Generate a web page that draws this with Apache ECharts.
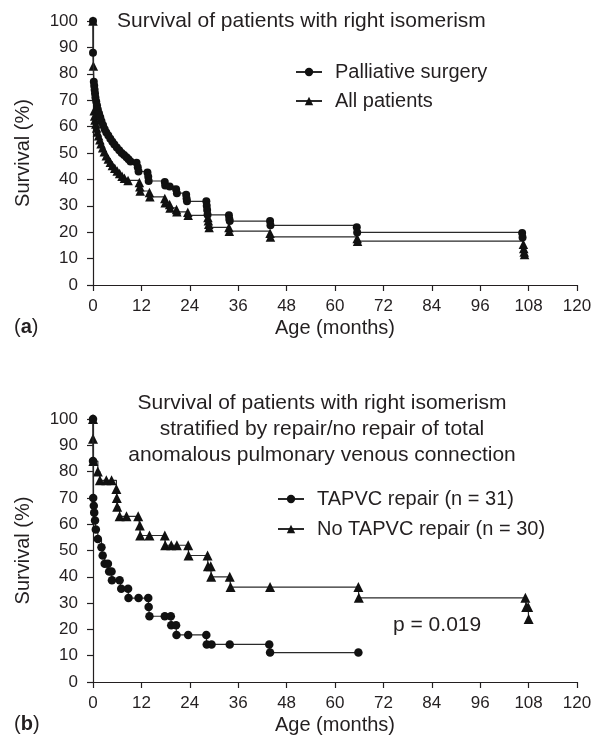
<!DOCTYPE html>
<html>
<head>
<meta charset="utf-8">
<script src="https://cdn.jsdelivr.net/npm/echarts@6/dist/echarts.min.js"></script>
<style>
html,body{margin:0;padding:0;background:#fff;}
#c{width:600px;height:742px;}
</style>
</head>
<body>
<div id="c"></div>
<script>
// ---- Data (months, survival %) ----
var xTicks = [0, 12, 24, 36, 48, 60, 72, 84, 96, 108, 120];
var yTicks = [0, 10, 20, 30, 40, 50, 60, 70, 80, 90, 100];

var titleA = 'Survival of patients with right isomerism';
var titleB = 'Survival of patients with right isomerism\nstratified by repair/no repair of total\nanomalous pulmonary venous connection';
var xName = 'Age (months)';
var yName = 'Survival (%)';
var pValue = 'p = 0.019';

var palliativeName = 'Palliative surgery';
var palliative = [
  [0,100],[0,88],[0.2,77],[0.3,75.5],[0.4,74],[0.5,72.5],[0.6,71],[0.8,69.5],[1.0,68],[1.2,66.5],
  [1.5,65],[1.8,63.5],[2.1,62],[2.5,60.5],[2.9,59],[3.3,57.8],[3.8,56.6],[4.3,55.4],[4.8,54.3],
  [5.3,53.2],[5.9,52.1],[6.5,51],[7.1,50],[7.7,49.2],[8.3,48.4],[8.8,47.6],[9.3,46.8],[10.8,46.3],
  [11.1,44.6],[11.3,43],[13.5,42.6],[13.7,41],[13.8,39.4],[17.8,39],[17.9,37.7],[19,37.3],
  [20.6,36.3],[20.8,34.8],[23.1,34.2],[23.2,32.8],[23.3,31.7],[28.1,31.7],[28.2,30],[28.3,28.4],
  [28.4,26.6],[33.7,26.4],[33.8,25],[33.9,24.2],[43.9,24.2],[44,22.6],[65.4,21.9],[65.5,19.9],
  [106.4,19.7],[106.5,18]
];

var allName = 'All patients';
var allPatients = [
  [0,100],[0.1,83],[0.3,66],[0.4,64],[0.5,62.5],[0.7,61],[0.9,59.5],[1.1,58],[1.4,56.5],[1.7,55],
  [2.0,53.5],[2.4,52],[2.8,50.5],[3.3,49],[3.8,47.7],[4.3,46.5],[4.8,45.3],[5.4,44.2],[6.0,43.2],
  [6.6,42.2],[7.2,41.2],[7.8,40.4],[8.7,39.6],[11.5,38.8],[11.6,37.2],[11.7,35.6],[14.0,35],
  [14.1,33.4],[17.8,32.8],[17.9,31.2],[19.0,30.5],[19.1,29.2],[20.7,28.6],[20.8,27.7],[23.5,27.6],
  [23.6,26.4],[28.5,25.6],[28.6,24.3],[28.7,23],[28.8,21.8],[33.7,21.8],[33.8,20.4],[43.9,19.6],
  [44,18.2],[65.5,17.6],[65.6,16.6],[106.7,15.4],[106.8,13.8],[106.9,12.5],[107,11.6]
];

var repairName = 'TAPVC repair (n = 31)';
var repair = [
  [0,100],[0,84],[0.05,70],[0.2,67],[0.3,64.4],[0.5,61.4],[0.7,58],[1.2,54.4],[2.1,51.2],[2.4,48.1],
  [2.9,45],[3.7,45],[4.0,42],[4.6,42],[4.7,38.7],[6.6,38.7],[7.0,35.5],[8.7,35.5],[8.8,31.9],
  [11.3,31.9],[13.7,31.9],[13.8,28.5],[14.0,25],[17.8,25],[19.3,25],[19.4,21.6],[20.6,21.6],
  [20.7,17.9],[23.6,17.9],[28.1,17.9],[28.2,14.3],[29.4,14.3],[33.9,14.3],[43.7,14.3],[43.9,11.2],
  [65.8,11.2]
];

var noRepairName = 'No TAPVC repair (n = 30)';
var noRepair = [
  [0,100],[0,92.5],[0.1,84],[1.2,80],[1.7,76.7],[3.3,76.7],[4.6,76.7],[5.8,73.4],[5.9,70],[6.0,66.6],
  [6.6,63],[8.3,63],[11.2,63],[11.6,59.5],[11.7,55.7],[14.0,55.7],[17.8,55.7],[17.9,52],[19.4,52],
  [20.8,52],[23.6,52],[23.7,48.1],[28.4,48.1],[28.5,44],[29.2,44],[29.3,40],[33.9,40],[34.1,36.1],
  [43.9,36.1],[65.8,36.1],[65.9,32],[107.2,32],[107.4,28.5],[107.9,28.5],[108,24]
];

// ---- Chart ----
var FONT = '"Liberation Sans", Arial, Helvetica, sans-serif';
var INK = '#231f20';
var chart = echarts.init(document.getElementById('c'), null, {renderer: 'canvas'});

function mkX(gi) {
  return {
    type: 'value', gridIndex: gi, min: 0, max: 120, interval: 12,
    name: xName, nameLocation: 'middle', nameGap: 33,
    nameTextStyle: {fontFamily: FONT, fontSize: 20, color: INK},
    axisLine: {lineStyle: {color: INK, width: 1.2}},
    axisTick: {show: true, inside: false, length: 6, lineStyle: {color: INK, width: 1.2}},
    axisLabel: {fontFamily: FONT, fontSize: 17, color: INK, margin: 13,
      formatter: function (v) { return xTicks.indexOf(v) >= 0 ? String(v) : ''; }},
    splitLine: {show: false}
  };
}
function mkY(gi) {
  return {
    type: 'value', gridIndex: gi, min: 0, max: 100, interval: 10,
    name: yName, nameLocation: 'middle', nameGap: 60,
    nameTextStyle: {fontFamily: FONT, fontSize: 20, color: INK},
    axisLine: {show: true, lineStyle: {color: INK, width: 1.2}},
    axisTick: {show: true, inside: false, length: 6, lineStyle: {color: INK, width: 1.2}},
    axisLabel: {fontFamily: FONT, fontSize: 17, color: INK, margin: 15,
      formatter: function (v) { return yTicks.indexOf(v) >= 0 ? String(v) : ''; }},
    splitLine: {show: false}
  };
}
function mkS(name, data, gi, symbol, size) {
  return {
    type: 'line', name: name, data: data, xAxisIndex: gi, yAxisIndex: gi,
    step: 'end', symbol: symbol, symbolSize: size, showSymbol: true,
    lineStyle: {color: '#2a2a2a', width: 1.2},
    itemStyle: {color: '#111', borderWidth: 0},
    emphasis: {disabled: true}, animation: false, clip: false, z: symbol === 'circle' ? 3 : 2
  };
}
function mkL(name, left, top) {
  return {
    data: [name], left: left, top: top, orient: 'horizontal', padding: 0,
    itemWidth: 26, itemHeight: 10.5, selectedMode: false,
    textStyle: {fontFamily: FONT, fontSize: 20, color: INK, padding: [0, 0, 0, 8]}
  };
}
function plain(size) {
  return {fontFamily: FONT, fontSize: size, fontWeight: 'normal', color: INK};
}

var option = {
  backgroundColor: '#fff',
  animation: false,
  title: [
    {text: titleA, left: 117, top: 11, padding: 0, textStyle: plain(21)},
    {text: titleB, left: 322, textAlign: 'center', top: 390, padding: 0,
      textStyle: Object.assign(plain(21), {lineHeight: 26, align: 'center'})},
    {text: pValue, left: 393, top: 615, padding: 0, textStyle: plain(21)},
    {text: '({b|a})', left: 14, top: 317, padding: 0, textStyle: Object.assign(plain(20),
      {rich: {b: {fontFamily: FONT, fontSize: 20, fontWeight: 'bold', color: INK}}})},
    {text: '({b|b})', left: 14, top: 714, padding: 0, textStyle: Object.assign(plain(20),
      {rich: {b: {fontFamily: FONT, fontSize: 20, fontWeight: 'bold', color: INK}}})}
  ],
  legend: [
    mkL(palliativeName, 295, 62),
    mkL(allName, 295, 91),
    mkL(repairName, 277, 489),
    mkL(noRepairName, 277, 519)
  ],
  grid: [
    {left: 93, right: 23, top: 21, height: 264},
    {left: 93, right: 23, top: 419, height: 263}
  ],
  xAxis: [mkX(0), mkX(1)],
  yAxis: [mkY(0), mkY(1)],
  series: [
    mkS(palliativeName, palliative, 0, 'circle', 8),
    mkS(allName, allPatients, 0, 'triangle', 9.5),
    mkS(repairName, repair, 1, 'circle', 8.5),
    mkS(noRepairName, noRepair, 1, 'triangle', 10)
  ]
};
chart.setOption(option);
</script>
</body>
</html>
